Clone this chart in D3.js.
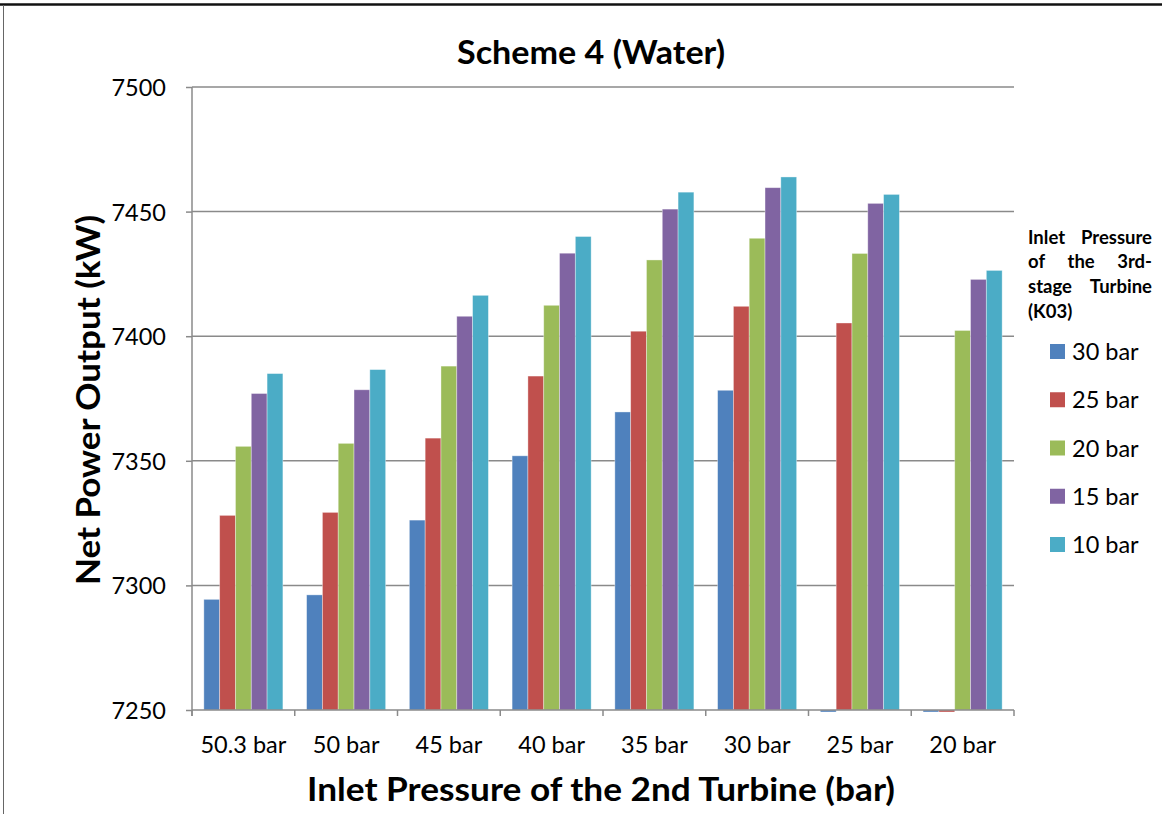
<!DOCTYPE html>
<html><head><meta charset="utf-8">
<script src="https://cdn.jsdelivr.net/npm/d3@7"></script>
<style>html,body{margin:0;padding:0;background:#fff;} svg{display:block;}</style>
</head><body><svg id="chart" width="1162" height="814"></svg>
<script>
// ---------- data ----------
const categories = ["50.3 bar","50 bar","45 bar","40 bar","35 bar","30 bar","25 bar","20 bar"];
const seriesNames = ["30 bar","25 bar","20 bar","15 bar","10 bar"];
const seriesColors = ["#4F81BD","#C0504D","#9BBB59","#8064A2","#4BACC6"];
const k03_30bar = [7294.4, 7296.2, 7326.2, 7352.0, 7369.6, 7378.3, 0, 0];
const k03_25bar = [7328.1, 7329.3, 7359.1, 7384.0, 7402.0, 7412.0, 7405.3, 0];
const k03_20bar = [7355.8, 7357.0, 7388.0, 7412.4, 7430.6, 7439.3, 7433.2, 7402.3];
const k03_15bar = [7377.0, 7378.5, 7408.0, 7433.3, 7451.0, 7459.6, 7453.3, 7422.8];
const k03_10bar = [7385.0, 7386.6, 7416.4, 7440.0, 7457.8, 7463.9, 7456.9, 7426.4];
const yTicks = [7250, 7300, 7350, 7400, 7450, 7500];
const chartTitle = "Scheme 4 (Water)";
const xTitle = "Inlet Pressure of the 2nd Turbine (bar)";
const yTitle = "Net Power Output (kW)";
const legendTitleLines = [["Inlet","Pressure"],["of","the","3rd-"],["stage","Turbine"],["(K03)"]];

const seriesValues = [k03_30bar, k03_25bar, k03_20bar, k03_15bar, k03_10bar];
const table = categories.map((c, i) => ({cat: c, vals: seriesNames.map((s, j) => ({s, v: seriesValues[j][i], color: seriesColors[j]}))}));

// ---------- layout ----------
const FONT = "Lato, 'Open Sans', sans-serif";
const plot = {left: 192, right: 1014, top: 87, bottom: 710};
const svg = d3.select("#chart");
const gridColor = "#8a8a8a";

// frame
svg.append("line").attr("x1", 0).attr("x2", 1162).attr("y1", 4.5).attr("y2", 4.5)
  .attr("stroke", "#111").attr("stroke-width", 2.5);
svg.append("line").attr("x1", 3.5).attr("x2", 3.5).attr("y1", 5).attr("y2", 814)
  .attr("stroke", "#666").attr("stroke-width", 1);

const x0 = d3.scaleBand().domain(categories).range([plot.left, plot.right]).paddingInner(0).paddingOuter(0);
const x1 = d3.scaleBand().domain(seriesNames).range([0, x0.bandwidth()]).paddingInner(0).paddingOuter(0.75);
const y = d3.scaleLinear().domain([yTicks[0], yTicks[yTicks.length - 1]]).range([plot.bottom, plot.top]);

// gridlines
svg.append("g").selectAll("line").data(yTicks.slice(1)).join("line")
  .attr("x1", plot.left).attr("x2", plot.right)
  .attr("y1", d => y(d)).attr("y2", d => y(d))
  .attr("stroke", gridColor).attr("stroke-width", 1.5);

// bars
const groups = svg.append("g").selectAll("g").data(table).join("g")
  .attr("transform", d => `translate(${x0(d.cat)},0)`);
groups.selectAll("rect").data(d => d.vals).join("rect")
  .attr("x", d => x1(d.s))
  .attr("width", x1.bandwidth())
  .attr("y", d => d.v >= y.domain()[0] ? y(d.v) : y(y.domain()[0]))
  .attr("height", d => d.v >= y.domain()[0] ? y(y.domain()[0]) - y(d.v) : 2)
  .attr("fill", d => d.color)
  .attr("stroke", "rgba(255,255,255,0.45)").attr("stroke-width", 0.8);

// y axis
const yAxis = svg.append("g").attr("transform", `translate(${plot.left},0)`)
  .call(d3.axisLeft(y).tickValues(yTicks).tickSize(6).tickPadding(20).tickFormat(d3.format("d")));
yAxis.select(".domain").attr("stroke", gridColor).attr("stroke-width", 1.5)
  .attr("d", `M0,${plot.top}V${plot.bottom + 6}`);
yAxis.selectAll(".tick line").attr("stroke", gridColor).attr("stroke-width", 1.5);
yAxis.selectAll(".tick text").attr("font-family", FONT).attr("font-size", 23.5).attr("fill", "#000")
  .attr("dy", "0.36em");

// x axis
const xAxisG = svg.append("g").attr("transform", `translate(0,${plot.bottom})`);
xAxisG.append("line").attr("x1", plot.left).attr("x2", plot.right).attr("y1", 0).attr("y2", 0)
  .attr("stroke", gridColor).attr("stroke-width", 1.5);
const bounds = categories.map(c => x0(c)).concat([x0(categories[categories.length - 1]) + x0.bandwidth()]);
xAxisG.selectAll("line.tk").data(bounds).join("line").attr("class", "tk")
  .attr("x1", d => d).attr("x2", d => d).attr("y1", 0).attr("y2", 6)
  .attr("stroke", gridColor).attr("stroke-width", 1.5);
xAxisG.selectAll("text").data(categories).join("text")
  .attr("x", d => x0(d) + x0.bandwidth() / 2).attr("y", 43)
  .attr("text-anchor", "middle").attr("font-family", FONT).attr("font-size", 23.5).attr("fill", "#000")
  .text(d => d);

// titles
svg.append("text").attr("x", 591).attr("y", 64).attr("text-anchor", "middle")
  .attr("font-family", FONT).attr("font-weight", 700).attr("font-size", 33)
  .attr("textLength", 268).attr("lengthAdjust", "spacingAndGlyphs").text(chartTitle);
svg.append("text").attr("x", 601).attr("y", 801).attr("text-anchor", "middle")
  .attr("font-family", FONT).attr("font-weight", 700).attr("font-size", 32)
  .attr("textLength", 588).attr("lengthAdjust", "spacingAndGlyphs").text(xTitle);
svg.append("text").attr("transform", "translate(100,400) rotate(-90)").attr("text-anchor", "middle")
  .attr("font-family", FONT).attr("font-weight", 700).attr("font-size", 32)
  .attr("textLength", 370).attr("lengthAdjust", "spacingAndGlyphs").text(yTitle);

// legend title (justified)
const lgX = 1028, lgW = 124, lgY0 = 243.5, lgDy = 24.8;
legendTitleLines.forEach((words, li) => {
  const by = lgY0 + li * lgDy;
  const texts = words.map(w => svg.append("text").attr("y", by)
    .attr("font-family", FONT).attr("font-weight", 700).attr("font-size", 18.5).attr("fill", "#000").text(w));
  const widths = texts.map(t => t.node().getComputedTextLength());
  const last = li === legendTitleLines.length - 1 || words.length < 2;
  const gap = last ? 5 : (lgW - d3.sum(widths)) / (words.length - 1);
  let cx = lgX;
  texts.forEach((t, k) => { t.attr("x", cx); cx += widths[k] + gap; });
});

// legend items
const legendY = d3.scalePoint().domain(seriesNames).range([351.5, 544.5]);
const lg = svg.append("g").selectAll("g").data(seriesNames).join("g")
  .attr("transform", d => `translate(1050,${legendY(d)})`);
lg.append("rect").attr("x", 0).attr("y", -7.5).attr("width", 15).attr("height", 15)
  .attr("fill", (d, i) => seriesColors[i]);
lg.append("text").attr("x", 22).attr("y", 8.5).attr("font-family", FONT).attr("font-size", 23.5)
  .attr("fill", "#000").text(d => d);
</script>
</body></html>
